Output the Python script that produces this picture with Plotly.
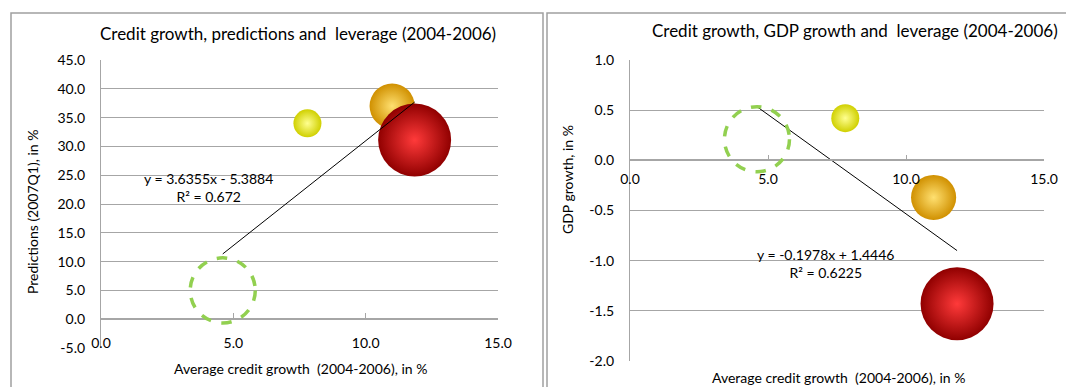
import plotly.graph_objects as go
import numpy as np

# ---------------- data ----------------
credit_growth = [4.6, 7.8, 11.0, 11.85]          # average credit growth 2004-2006, %
predictions = [5.0, 34.0, 37.0, 31.1]            # predictions (2007Q1), %
gdp_growth = [0.21, 0.42, -0.37, -1.43]          # GDP growth, %
leverage = [10.8, 2.0, 5.2, 13.6]                # bubble size
trend_left = [3.6355, -5.3884]                   # slope, intercept
trend_right = [-0.1978, 1.4446]
eq_left = ["y = 3.6355x - 5.3884", "R² = 0.672"]
eq_right = ["y = -0.1978x + 1.4446", "R² = 0.6225"]
x_ticks = [0, 5, 10, 15]
x_ticktext = ["0.0", "5.0", "10.0", "15.0"]
yL_ticks = [-5, 0, 5, 10, 15, 20, 25, 30, 35, 40, 45]
yL_ticktext = ["-5.0", "0.0", "5.0", "10.0", "15.0", "20.0", "25.0", "30.0", "35.0", "40.0", "45.0"]
yR_ticks = [-2.0, -1.5, -1.0, -0.5, 0.0, 0.5, 1.0]
yR_ticktext = ["-2.0", "-1.5", "-1.0", "-0.5", "0.0", "0.5", "1.0"]

title_left = "Credit growth, predictions and  leverage (2004-2006)"
title_right = "Credit growth, GDP growth and  leverage (2004-2006)"
xtitle = "Average credit growth  (2004-2006), in %"
ytitle_left = "Predictions (2007Q1), in %"
ytitle_right = "GDP growth, in %"

# ---------------- styling ----------------
W, H = 1066, 387
FONT = "Lato"
GRID = "#A6A6A6"
bright = ["#FFFF90", "#FFE070", "#FF3A3A"]
dark = ["#D0D000", "#D09000", "#900000"]
MAX_D = 73

def px(v, total):
    return v / total

xdomL = [px(101, W), px(498, W)]
ydomL = [1 - px(348, H), 1 - px(60, H)]
xdomR = [px(630, W), px(1044, W)]
ydomR = [1 - px(361, H), 1 - px(60, H)]
rngL = [-5, 45]
rngR = [-2, 1]

def zero_pos(dom, rng):
    return dom[0] + (0 - rng[0]) / (rng[1] - rng[0]) * (dom[1] - dom[0])

fig = go.Figure()

sizeref = 2.0 * max(leverage) / MAX_D ** 2

def add_bubbles(ys, xa, ya):
    fig.add_trace(go.Scatter(
        x=credit_growth[1:], y=ys[1:], mode="markers", xaxis=xa, yaxis=ya,
        cliponaxis=False, hoverinfo="skip", showlegend=False,
        marker=dict(size=leverage[1:], sizemode="area", sizeref=sizeref,
                    color=dark, gradient=dict(type="radial", color=bright),
                    line=dict(width=0), opacity=1)))

def add_trend(coef, xa, ya):
    xs = [min(credit_growth), max(credit_growth)]
    ys = [coef[0] * v + coef[1] for v in xs]
    fig.add_trace(go.Scatter(x=xs, y=ys, mode="lines", xaxis=xa, yaxis=ya,
                             line=dict(color="black", width=1), hoverinfo="skip",
                             showlegend=False))

def add_dashed_circle(ys, xr, yr):
    r = MAX_D / 2 * np.sqrt(leverage[0] / max(leverage))
    fig.add_shape(type="circle", xref=xr, yref=yr, xsizemode="pixel", ysizemode="pixel",
                  xanchor=credit_growth[0], yanchor=ys[0], x0=-r, x1=r, y0=-r, y1=r,
                  line=dict(color="#92D050", width=3.5, dash="dash"))

add_bubbles(predictions, "x", "y")
add_trend(trend_left, "x", "y")
add_dashed_circle(predictions, "x", "y")
add_bubbles(gdp_growth, "x2", "y2")
add_trend(trend_right, "x2", "y2")
add_dashed_circle(gdp_growth, "x2", "y2")

tickfont = dict(family=FONT, size=14, color="#000000")

def xaxis(dom, pos, standoff):
    return dict(domain=dom, range=[0, 15], anchor="free", position=pos, automargin=False,
                tickvals=x_ticks, ticktext=x_ticktext, showgrid=False, zeroline=False,
                showline=True, linecolor=GRID, linewidth=1.5, ticks="inside", ticklen=5,
                tickcolor=GRID, tickfont=tickfont, ticklabelstandoff=standoff)

def yaxis(dom, rng, tv, tt, anchor):
    return dict(domain=dom, range=rng, tickvals=tv, ticktext=tt, anchor=anchor,
                automargin=False, showgrid=True, gridcolor=GRID, gridwidth=1.2,
                zeroline=False, showline=True, linecolor=GRID, linewidth=1.2, ticks="",
                tickfont=tickfont, ticklabelstandoff=12)

fig.update_layout(
    template="none",
    width=W, height=H, margin=dict(l=0, r=0, t=0, b=0, autoexpand=False),
    paper_bgcolor="white", plot_bgcolor="white",
    font=dict(family=FONT, color="black"),
    xaxis=xaxis(xdomL, zero_pos(ydomL, rngL), 11),
    yaxis=yaxis(ydomL, rngL, yL_ticks, yL_ticktext, "x"),
    xaxis2=xaxis(xdomR, zero_pos(ydomR, rngR), 6),
    yaxis2=yaxis(ydomR, rngR, yR_ticks, yR_ticktext, "x2"),
)

# chart frames
fig.add_shape(type="rect", xref="paper", yref="paper", x0=px(11, W), x1=px(543, W),
              y0=-0.05, y1=1 - px(13, H), line=dict(color="#A0A0A0", width=1.5), layer="below")
fig.add_shape(type="rect", xref="paper", yref="paper", x0=px(547, W), x1=1.05,
              y0=-0.05, y1=1 - px(13, H), line=dict(color="#A0A0A0", width=1.5), layer="below")

def pann(text, x, y, size, angle=0):
    return dict(text=text, x=px(x, W), y=1 - px(y, H), xref="paper", yref="paper",
                xanchor="center", yanchor="middle", showarrow=False, textangle=angle,
                font=dict(size=size, family=FONT))

ann = [
    pann(title_left, 298, 33, 17),
    pann(title_right, 855, 31, 17),
    pann(xtitle, 300, 368, 14),
    pann(xtitle, 838, 377, 14),
    pann(ytitle_left, 32, 212, 14, -90),
    pann(ytitle_right, 568, 180, 14, -90),
    dict(text="<br>".join(eq_left), x=4.08, y=22.8, xref="x", yref="y",
         xanchor="center", yanchor="middle", showarrow=False, font=dict(size=14, family=FONT)),
    dict(text="<br>".join(eq_right), x=7.07, y=-1.03, xref="x2", yref="y2",
         xanchor="center", yanchor="middle", showarrow=False, font=dict(size=14, family=FONT)),
]
fig.update_layout(annotations=ann)

fig.write_html("out.html", config={"displayModeBar": False},
               post_script="document.body.style.margin='0px';document.body.style.overflow='hidden';")
